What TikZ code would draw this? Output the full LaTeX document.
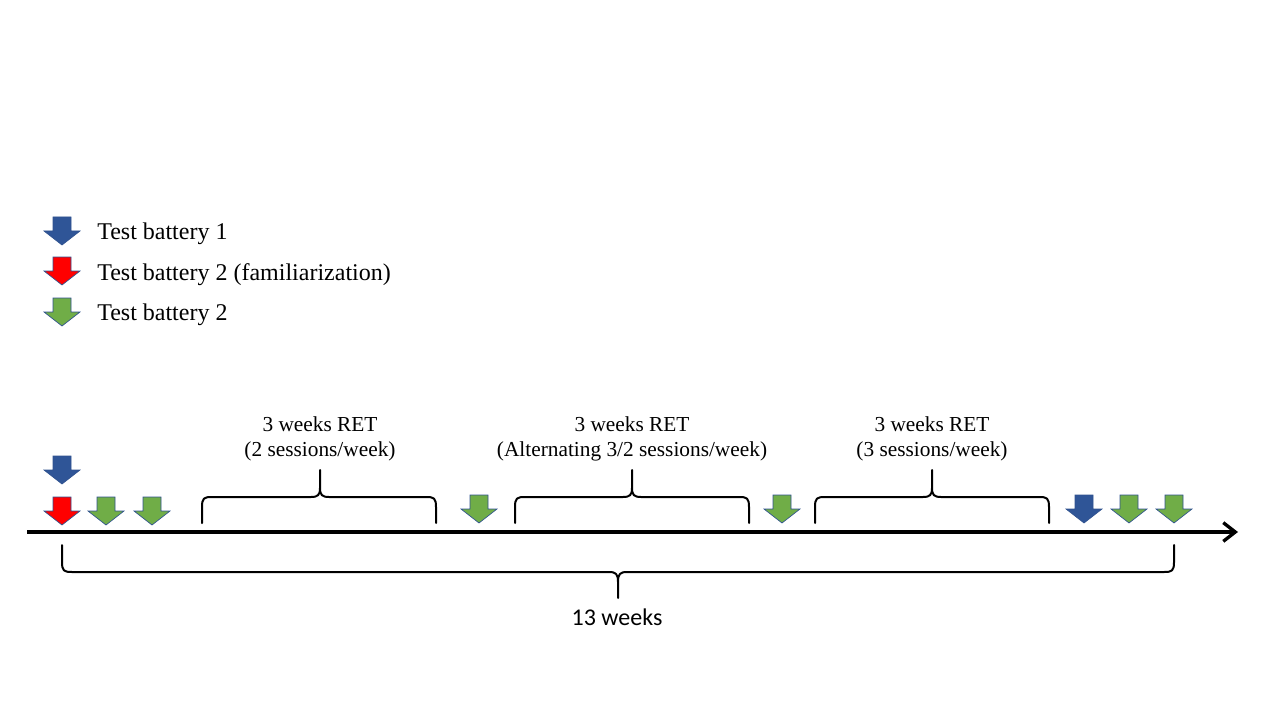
\documentclass[tikz,border=0pt]{standalone}
\usepackage{fontspec}
\setmainfont{Liberation Serif}
\newfontfamily\calib{Carlito}
\usetikzlibrary{arrows.meta}
\definecolor{tbblue}{HTML}{2F5597}
\definecolor{tbred}{HTML}{FF0000}
\definecolor{tbgreen}{HTML}{70AD47}
\definecolor{tboutline}{HTML}{2F528F}
\tikzset{
  pics/darrow/.style={code={
    \draw[draw=tboutline,line width=0.5pt,fill=#1,line join=miter]
      (-9,0) -- (9,0) -- (9,14) -- (18,14) -- (0,28) -- (-18,14) -- (-9,14) -- cycle;}},
  bracestyle/.style={line width=1.5pt,line cap=round,line join=round},
  legendtext/.style={anchor=base west,inner sep=0pt,font=\fontsize{18}{21}\selectfont},
  bracetext/.style={anchor=base,inner sep=0pt,font=\fontsize{16}{19}\selectfont},
  weekstext/.style={anchor=base,inner sep=0pt,font=\calib\fontsize{18}{21}\selectfont},
}
\newcommand{\topbrace}[3]{%
  \draw[bracestyle] (#1,523) -- (#1,507) .. controls (#1,498) and (#1+2,497) .. (#1+10,497)
    -- (#3-9,497) .. controls (#3-2,497) and (#3,495) .. (#3,488) -- (#3,470)
    (#3,488) .. controls (#3,495) and (#3+2,497) .. (#3+9,497)
    -- (#2-10,497) .. controls (#2-2,497) and (#2,498) .. (#2,507) -- (#2,523);}
\begin{document}
\begin{tikzpicture}[x=0.75pt,y=-0.75pt]
\useasboundingbox (0,0) rectangle (1280,720);
% legend
\pic at (62,217) {darrow=tbblue};
\pic at (62,257) {darrow=tbred};
\pic at (62,298) {darrow=tbgreen};
\node[legendtext] (l1) at (97,239) {Test battery 1};
\node[legendtext] (l2) at (97,280) {Test battery 2 (familiarization)};
\node[legendtext] (l3) at (97,320) {Test battery 2};
% timeline
\coordinate (tstart) at (27,532);
\coordinate (tend) at (1238,532);
\draw[line width=3pt,-{Straight Barb[length=9pt,width=14pt,line width=2.5pt]}] (tstart) -- (tend);
% markers
\pic at (62,456) {darrow=tbblue};
\pic at (62,497) {darrow=tbred};
\pic at (106,497) {darrow=tbgreen};
\pic at (152,497) {darrow=tbgreen};
\pic at (479,495) {darrow=tbgreen};
\pic at (782,495) {darrow=tbgreen};
\pic at (1084,495) {darrow=tbblue};
\pic at (1129,495) {darrow=tbgreen};
\pic at (1174,495) {darrow=tbgreen};
% top braces
\topbrace{202}{436}{320}
\topbrace{515}{749}{632}
\topbrace{815}{1049}{932}
\node[bracetext] (b1a) at (320,431) {3 weeks RET};
\node[bracetext] (b1b) at (320,456) {(2 sessions/week)};
\node[bracetext] (b2a) at (632,431) {3 weeks RET};
\node[bracetext] (b2b) at (632,456) {(Alternating 3/2 sessions/week)};
\node[bracetext] (b3a) at (932,431) {3 weeks RET};
\node[bracetext] (b3b) at (932,456) {(3 sessions/week)};
% bottom brace
\draw[bracestyle] (62,545) -- (62,562) .. controls (62,571) and (64,572) .. (72,572)
  -- (609,572) .. controls (616,572) and (618,574) .. (618,582) -- (618,598)
  (618,582) .. controls (618,574) and (620,572) .. (627,572)
  -- (1164,572) .. controls (1172,572) and (1174,571) .. (1174,562) -- (1174,545);
\node[weekstext] (wk) at (617,625) {13 weeks};
\end{tikzpicture}
\end{document}
